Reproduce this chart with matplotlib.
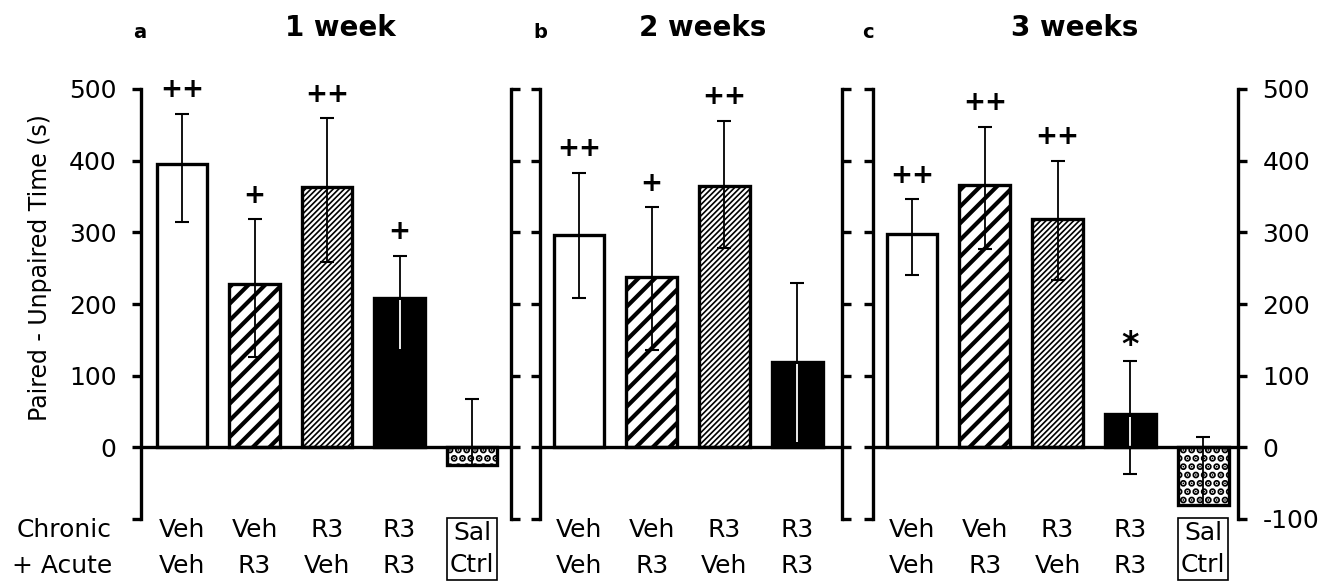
import numpy as np
import matplotlib.pyplot as plt
from matplotlib.transforms import blended_transform_factory

plt.rcParams['font.family'] = ['DejaVu Sans']
plt.rcParams['axes.unicode_minus'] = False

# data (s)
groups = ["Veh\nVeh", "Veh\nR3", "R3\nVeh", "R3\nR3", "Sal\nCtrl"]

mean_a = [395, 228, 363, 208, -25]
lo_a = [81, 102, 105, 73, 0]
hi_a = [70, 90, 96, 59, 92]
sig_a = ["++", "+", "++", "+", ""]

mean_b = [296, 238, 365, 119]
lo_b = [88, 102, 87, 113]
hi_b = [87, 97, 91, 111]
sig_b = ["++", "+", "++", ""]

mean_c = [297, 366, 318, 46, -80]
lo_c = [56, 89, 84, 83, 0]
hi_c = [49, 81, 82, 74, 94]
sig_c = ["++", "++", "++", "*", ""]

titles = ["1 week", "2 weeks", "3 weeks"]
letters = ["a", "b", "c"]
yticks = [-100, 0, 100, 200, 300, 400, 500]

# bar styles: face, hatch, hatch linewidth
styles = [("white", None, 1.0),
          ("white", "//", 3.0),
          ("white", "//////", 1.2),
          ("black", None, 1.0),
          ("white", "..", 3.6)]

W, H = 1322, 585
fig = plt.figure(figsize=(W / 100, H / 100), dpi=100)

# panel geometry in pixels: left spine, right spine, xlim
bot, top = 519, 89
panels = [(141, 511, (-0.566, 4.538)),
          (540, 842, (-0.536, 3.617)),
          (873, 1238, (-0.536, 4.48))]
title_x = [340, 703, 1075]
letter_x = [140, 540, 868]

data = [(mean_a, lo_a, hi_a, sig_a),
        (mean_b, lo_b, hi_b, sig_b),
        (mean_c, lo_c, hi_c, sig_c)]

for k, ((x0, x1, xl), (m, lo, hi, sig)) in enumerate(zip(panels, data)):
    ax = fig.add_axes([x0 / W, 1 - bot / H, (x1 - x0) / W, (bot - top) / H])
    ax.patch.set_alpha(0)
    n = len(m)
    x = np.arange(n)
    for i in range(n):
        face, hatch, hlw = styles[i]
        with plt.rc_context({'hatch.linewidth': hlw}):
            b = ax.bar(x[i], m[i], width=0.70, color=face, edgecolor="black",
                       linewidth=2.4, hatch=hatch, zorder=2)
        for p in b:
            if hasattr(p, "set_hatch_linewidth"):
                p.set_hatch_linewidth(hlw)
    ax.errorbar(x, m, yerr=[lo, hi], fmt="none", ecolor="black",
                elinewidth=1.3, capsize=5, capthick=1.5, zorder=3)
    # inside the solid black bar the whisker shows white
    ax.vlines(x[3], max(m[3] - lo[3], 0) + 2, m[3] - 3, color="white",
              linewidth=1.3, zorder=4)
    ax.axhline(0, color="black", linewidth=2.4, zorder=5)
    for i in range(n):
        if sig[i]:
            off = 33 if sig[i] != "*" else 22
            ax.text(x[i], m[i] + hi[i] + off, sig[i], ha="center", va="center",
                    fontsize=19 if sig[i] != "*" else 24, fontweight="bold")

    ax.set_xlim(*xl)
    ax.set_ylim(-100, 500)
    ax.set_yticks(yticks)
    if k == 0:
        ax.set_yticklabels([""] + [str(t) for t in yticks[1:]])
    ax.set_xticks([])
    for s in ["left", "right"]:
        ax.spines[s].set_linewidth(2.4)
    ax.spines["top"].set_visible(False)
    ax.spines["bottom"].set_visible(False)
    ax.tick_params(axis="y", which="both", left=True, right=True,
                   direction="out", length=6.5, width=2.4,
                   labelleft=(k == 0), labelright=(k == 2),
                   labelsize=18, pad=11)

    # group labels below each bar
    tr = blended_transform_factory(ax.transData, fig.transFigure)
    for i in range(n):
        if i == 4:
            ax.text(x[i], 1 - 549 / H, groups[i], transform=tr, ha="center",
                    va="center", fontsize=18, linespacing=1.45,
                    bbox=dict(boxstyle="square,pad=0.12", fc="white",
                              ec="black", lw=1.2))
        else:
            top_lbl, bot_lbl = groups[i].split("\n")
            ax.text(x[i], 1 - 530 / H, top_lbl, transform=tr, ha="center",
                    va="center", fontsize=18)
            ax.text(x[i], 1 - 566 / H, bot_lbl, transform=tr, ha="center",
                    va="center", fontsize=18)

    fig.text(title_x[k] / W, 1 - 28 / H, titles[k], ha="center", va="center",
             fontsize=20, fontweight="heavy")
    fig.text(letter_x[k] / W, 1 - 33 / H, letters[k], ha="center",
             va="center", fontsize=14, fontweight="bold")

fig.text(112 / W, 1 - 530 / H, "Chronic", ha="right", va="center", fontsize=18)
fig.text(112 / W, 1 - 566 / H, "+ Acute", ha="right", va="center", fontsize=18)
fig.text(40 / W, 1 - 268 / H, "Paired - Unpaired Time (s)", rotation=90,
         ha="center", va="center", fontsize=17)

fig.savefig("out.png", dpi=100)
